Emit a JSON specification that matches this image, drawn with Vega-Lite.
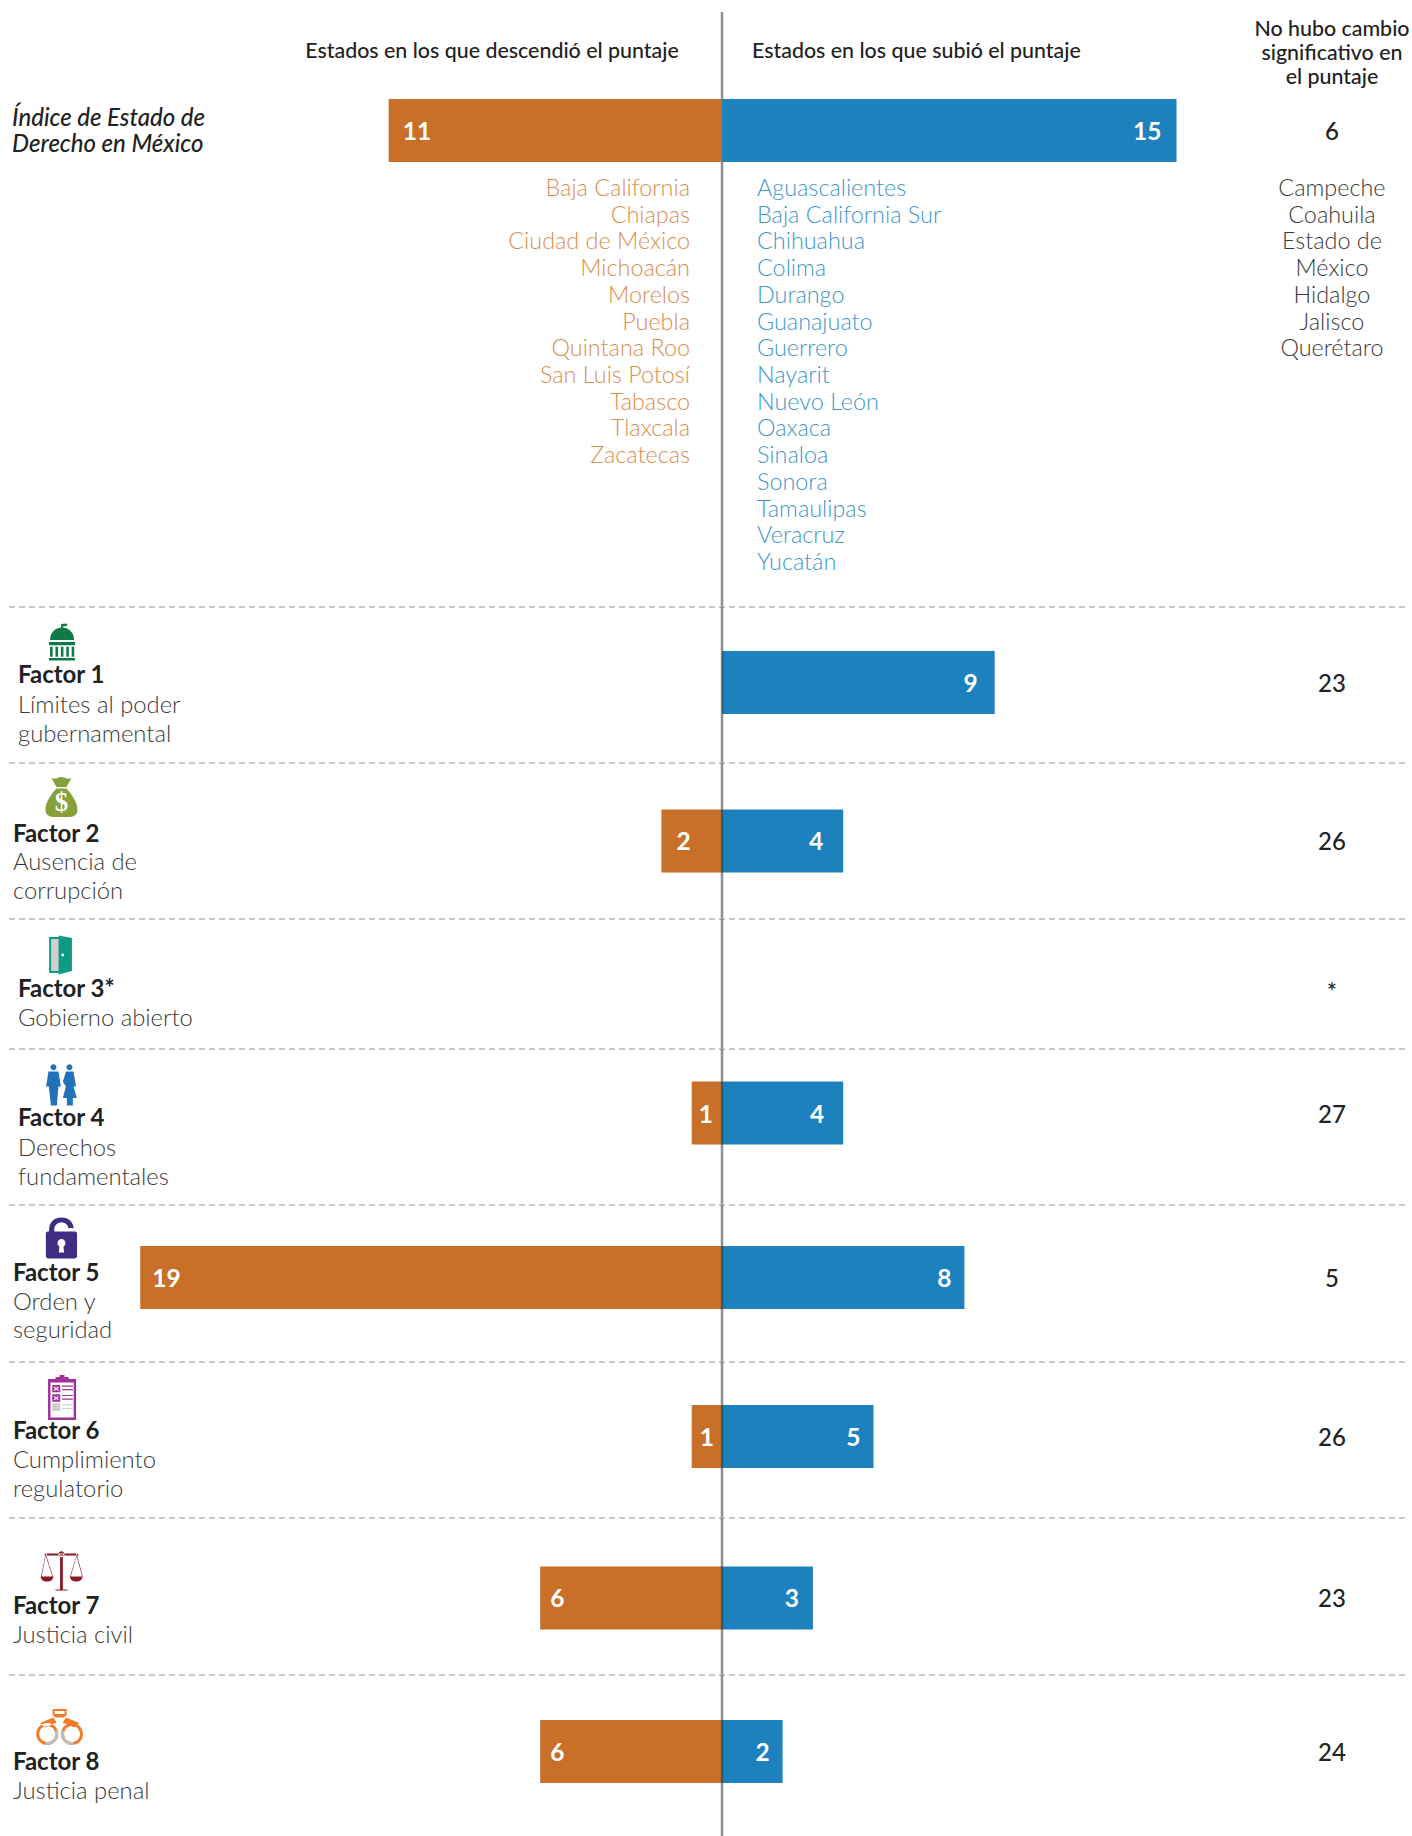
{
"$schema":"https://vega.github.io/schema/vega-lite/v6.json",
"padding":{"left":0,"right":0,"top":10,"bottom":0},
"background":"white",
"spacing":0,
"bounds":"flush",
"config":{"view":{"stroke":null},"axis":{"disable":true},"legend":{"disable":true},"font":"Lato","concat":{"spacing":0}},
"datasets":{
"encabezados":[{"grupo":"descendió","texto":"Estados en los que descendió el puntaje"},{"grupo":"subió","texto":"Estados en los que subió el puntaje"},{"grupo":"sin cambio","texto":"No hubo cambio\nsignificativo en\nel puntaje"}],
"barras":[
{"fila":"Índice","cambio":"descendió","estados":-11,"rotulo":"11"},{"fila":"Índice","cambio":"subió","estados":15,"rotulo":"15"},
{"fila":"Factor 1","cambio":"subió","estados":9,"rotulo":"9"},
{"fila":"Factor 2","cambio":"descendió","estados":-2,"rotulo":"2"},{"fila":"Factor 2","cambio":"subió","estados":4,"rotulo":"4"},
{"fila":"Factor 4","cambio":"descendió","estados":-1,"rotulo":"1"},{"fila":"Factor 4","cambio":"subió","estados":4,"rotulo":"4"},
{"fila":"Factor 5","cambio":"descendió","estados":-19.2,"rotulo":"19"},{"fila":"Factor 5","cambio":"subió","estados":8,"rotulo":"8"},
{"fila":"Factor 6","cambio":"descendió","estados":-1,"rotulo":"1"},{"fila":"Factor 6","cambio":"subió","estados":5,"rotulo":"5"},
{"fila":"Factor 7","cambio":"descendió","estados":-6,"rotulo":"6"},{"fila":"Factor 7","cambio":"subió","estados":3,"rotulo":"3"},
{"fila":"Factor 8","cambio":"descendió","estados":-6,"rotulo":"6"},{"fila":"Factor 8","cambio":"subió","estados":2,"rotulo":"2"}],
"filas":[
{"fila":"Índice","nombre":"Índice de Estado de\nDerecho en México","sinCambio":"6"},
{"fila":"Factor 1","nombre":"Factor 1","descripcion":"Límites al poder\ngubernamental","sinCambio":"23"},
{"fila":"Factor 2","nombre":"Factor 2","descripcion":"Ausencia de\ncorrupción","sinCambio":"26"},
{"fila":"Factor 3","nombre":"Factor 3*","descripcion":"Gobierno abierto","sinCambio":"*"},
{"fila":"Factor 4","nombre":"Factor 4","descripcion":"Derechos\nfundamentales","sinCambio":"27"},
{"fila":"Factor 5","nombre":"Factor 5","descripcion":"Orden y\nseguridad","sinCambio":"5"},
{"fila":"Factor 6","nombre":"Factor 6","descripcion":"Cumplimiento\nregulatorio","sinCambio":"26"},
{"fila":"Factor 7","nombre":"Factor 7","descripcion":"Justicia civil","sinCambio":"23"},
{"fila":"Factor 8","nombre":"Factor 8","descripcion":"Justicia penal","sinCambio":"24"}],
"estados":[
{"grupo":"descendió","orden":1,"estado":"Baja California"},{"grupo":"descendió","orden":2,"estado":"Chiapas"},{"grupo":"descendió","orden":3,"estado":"Ciudad de México"},{"grupo":"descendió","orden":4,"estado":"Michoacán"},{"grupo":"descendió","orden":5,"estado":"Morelos"},{"grupo":"descendió","orden":6,"estado":"Puebla"},{"grupo":"descendió","orden":7,"estado":"Quintana Roo"},{"grupo":"descendió","orden":8,"estado":"San Luis Potosí"},{"grupo":"descendió","orden":9,"estado":"Tabasco"},{"grupo":"descendió","orden":10,"estado":"Tlaxcala"},{"grupo":"descendió","orden":11,"estado":"Zacatecas"},
{"grupo":"subió","orden":1,"estado":"Aguascalientes"},{"grupo":"subió","orden":2,"estado":"Baja California Sur"},{"grupo":"subió","orden":3,"estado":"Chihuahua"},{"grupo":"subió","orden":4,"estado":"Colima"},{"grupo":"subió","orden":5,"estado":"Durango"},{"grupo":"subió","orden":6,"estado":"Guanajuato"},{"grupo":"subió","orden":7,"estado":"Guerrero"},{"grupo":"subió","orden":8,"estado":"Nayarit"},{"grupo":"subió","orden":9,"estado":"Nuevo León"},{"grupo":"subió","orden":10,"estado":"Oaxaca"},{"grupo":"subió","orden":11,"estado":"Sinaloa"},{"grupo":"subió","orden":12,"estado":"Sonora"},{"grupo":"subió","orden":13,"estado":"Tamaulipas"},{"grupo":"subió","orden":14,"estado":"Veracruz"},{"grupo":"subió","orden":15,"estado":"Yucatán"},
{"grupo":"sin cambio","orden":1,"estado":"Campeche"},{"grupo":"sin cambio","orden":2,"estado":"Coahuila"},{"grupo":"sin cambio","orden":3,"estado":"Estado de\nMéxico"},{"grupo":"sin cambio","orden":5,"estado":"Hidalgo"},{"grupo":"sin cambio","orden":6,"estado":"Jalisco"},{"grupo":"sin cambio","orden":7,"estado":"Querétaro"}]
},
"vconcat":[
{"width":1412,"height":87,"data":{"name":"encabezados"},"layer":[
 {"data":{"values":[{}]},"mark":{"type":"rule","color":"#333333","opacity":0.55,"strokeWidth":2.5},"encoding":{"x":{"datum":0,"type":"quantitative","scale":{"domain":[-23.828,22.772],"nice":false}}}},
 {"transform":[{"filter":"datum.grupo==='descendió'"}],"mark":{"type":"text","fontSize":21.4,"fontWeight":500,"color":"#222222","align":"center","dy":-3.2},"encoding":{"x":{"datum":-7.59},"text":{"field":"texto"}}},
 {"transform":[{"filter":"datum.grupo==='subió'"}],"mark":{"type":"text","fontSize":21.4,"fontWeight":500,"color":"#222222","align":"left","dy":-3.2},"encoding":{"x":{"datum":0.99},"text":{"field":"texto"}}},
 {"transform":[{"filter":"datum.grupo==='sin cambio'"}],"mark":{"type":"text","fontSize":21.4,"fontWeight":500,"color":"#222222","align":"center","lineBreak":"\n","lineHeight":24,"dy":-25.6},"encoding":{"x":{"datum":20.13},"text":{"field":"texto"}}}
]},
{"width":1412,"height":63,"data":{"name":"filas"},"transform":[{"filter":"datum.fila==='Índice'"}],"layer":[
 {"data":{"name":"barras"},"transform":[{"filter":"datum.fila==='Índice'"}],"mark":{"type":"bar","size":63},"encoding":{"x":{"field":"estados","type":"quantitative","stack":null,"scale":{"domain":[-23.828,22.772],"nice":false}},"color":{"field":"cambio","type":"nominal","scale":{"domain":["descendió","subió"],"range":["#C8702A","#1C81BD"]}}}},
 {"data":{"name":"barras"},"transform":[{"filter":"datum.fila==='Índice' && datum.cambio==='descendió'"}],"mark":{"type":"text","fontSize":24.5,"fontWeight":700,"color":"white","align":"left","dx":14,"dy":2},"encoding":{"x":{"field":"estados","type":"quantitative"},"text":{"field":"rotulo"}}},
 {"data":{"name":"barras"},"transform":[{"filter":"datum.fila==='Índice' && datum.cambio==='subió'"}],"mark":{"type":"text","fontSize":24.5,"fontWeight":700,"color":"white","align":"right","dx":-15,"dy":2},"encoding":{"x":{"field":"estados","type":"quantitative"},"text":{"field":"rotulo"}}},
 {"mark":{"type":"text","fontSize":24,"fontWeight":500,"color":"#222222","align":"center","dy":2},"encoding":{"x":{"datum":20.13},"text":{"field":"sinCambio"}}},
 {"mark":{"type":"text","fontSize":24,"fontWeight":500,"fontStyle":"italic","color":"#222222","align":"left","lineBreak":"\n","lineHeight":26,"dy":-12},"encoding":{"x":{"datum":-23.43},"text":{"field":"nombre"}}}
]},
{"width":1412,"height":445,"data":{"name":"estados"},"layer":[
 {"data":{"values":[{}]},"mark":{"type":"rule","color":"#333333","opacity":0.55,"strokeWidth":2.5},"encoding":{"x":{"datum":0,"type":"quantitative","scale":{"domain":[-23.828,22.772],"nice":false}}}},
 {"transform":[{"filter":"datum.grupo==='descendió'"}],"mark":{"type":"text","font":"'Lato Light', Lato","fontSize":23.4,"fontWeight":300,"color":"#DA8E4E","align":"right"},"encoding":{"x":{"datum":-1.056},"y":{"field":"orden","type":"ordinal","scale":{"type":"point","domain":[1,2,3,4,5,6,7,8,9,10,11,12,13,14,15],"range":[27,401],"padding":0}},"text":{"field":"estado"}}},
 {"transform":[{"filter":"datum.grupo==='subió'"}],"mark":{"type":"text","font":"'Lato Light', Lato","fontSize":23.4,"fontWeight":300,"color":"#3F97CC","align":"left"},"encoding":{"x":{"datum":1.155},"y":{"field":"orden","type":"ordinal"},"text":{"field":"estado"}}},
 {"transform":[{"filter":"datum.grupo==='sin cambio'"}],"mark":{"type":"text","font":"'Lato Light', Lato","fontSize":23.4,"fontWeight":300,"color":"#3A3A3A","align":"center","baseline":"alphabetic","dy":7,"lineBreak":"\n","lineHeight":26.7},"encoding":{"x":{"datum":20.13},"y":{"field":"orden","type":"ordinal"},"text":{"field":"estado"}}}
]},
{"width":1412,"height":156,"data":{"name":"filas"},"transform":[{"filter":"datum.fila==='Factor 1'"}],"layer":[
 {"mark":{"type":"rule","color":"#B8B8B8","strokeWidth":1.5,"strokeDash":[6,4],"yOffset":-78},"encoding":{"x":{"datum":-23.53,"type":"quantitative","scale":{"domain":[-23.828,22.772],"nice":false}},"x2":{"datum":22.57}}},
 {"data":{"name":"barras"},"transform":[{"filter":"datum.fila==='Factor 1'"}],"mark":{"type":"bar","size":63,"yOffset":-2.4},"encoding":{"x":{"field":"estados","type":"quantitative","stack":null},"color":{"field":"cambio","type":"nominal","scale":{"domain":["descendió","subió"],"range":["#C8702A","#1C81BD"]}}}},
 {"mark":{"type":"rule","color":"#333333","opacity":0.55,"strokeWidth":2.5},"encoding":{"x":{"datum":0}}},
 {"data":{"name":"barras"},"transform":[{"filter":"datum.fila==='Factor 1' && datum.cambio==='subió'"}],"mark":{"type":"text","fontSize":24.5,"fontWeight":700,"color":"white","align":"right","dx":-17,"dy":0},"encoding":{"x":{"field":"estados","type":"quantitative"},"text":{"field":"rotulo"}}},
 {"mark":{"type":"text","fontSize":24,"fontWeight":500,"color":"#222222","align":"center","dy":0},"encoding":{"x":{"datum":20.13},"text":{"field":"sinCambio"}}},
 {"mark":{"type":"text","fontSize":24,"fontWeight":700,"color":"#222222","align":"left","baseline":"alphabetic"},"encoding":{"x":{"datum":-23.234},"y":{"datum":"nombre","type":"nominal","scale":{"type":"point","domain":["icono","nombre","descripcion"],"range":[46,106],"padding":0}},"text":{"field":"nombre"}}},
 {"mark":{"type":"text","font":"'Lato Light', Lato","fontSize":23.8,"fontWeight":300,"color":"#3A3A3A","align":"left","baseline":"alphabetic","lineBreak":"\n","lineHeight":29},"encoding":{"x":{"datum":-23.234},"y":{"datum":"descripcion","type":"nominal"},"text":{"field":"descripcion"}}},
 {"mark":{"type":"point","filled":true,"opacity":1,"color":"#0F7A45","size":1600,"yOffset":-11,"shape":"M -0.6 -0.1 C -0.6 -0.5 -0.3 -0.72 0 -0.72 C 0.3 -0.72 0.6 -0.5 0.6 -0.1 Z M -0.05 -0.72 L -0.05 -0.9 L 0.25 -0.92 L 0.25 -0.8 L 0.05 -0.78 L 0.05 -0.72 Z M -0.65 0 L 0.65 0 L 0.65 0.16 L -0.65 0.16 Z M -0.6 0.24 L -0.47 0.24 L -0.47 0.74 L -0.6 0.74 Z M -0.33 0.24 L -0.2 0.24 L -0.2 0.74 L -0.33 0.74 Z M -0.06 0.24 L 0.07 0.24 L 0.07 0.74 L -0.06 0.74 Z M 0.21 0.24 L 0.34 0.24 L 0.34 0.74 L 0.21 0.74 Z M 0.48 0.24 L 0.61 0.24 L 0.61 0.74 L 0.48 0.74 Z M -0.65 0.8 L 0.65 0.8 L 0.65 0.92 L -0.65 0.92 Z"},"encoding":{"x":{"datum":-21.78},"y":{"datum":"icono","type":"nominal"}}}
]},
{"width":1412,"height":156,"data":{"name":"filas"},"transform":[{"filter":"datum.fila==='Factor 2'"}],"layer":[
 {"mark":{"type":"rule","color":"#B8B8B8","strokeWidth":1.5,"strokeDash":[6,4],"yOffset":-78},"encoding":{"x":{"datum":-23.53,"type":"quantitative","scale":{"domain":[-23.828,22.772],"nice":false}},"x2":{"datum":22.57}}},
 {"data":{"name":"barras"},"transform":[{"filter":"datum.fila==='Factor 2'"}],"mark":{"type":"bar","size":63},"encoding":{"x":{"field":"estados","type":"quantitative","stack":null},"color":{"field":"cambio","type":"nominal","scale":{"domain":["descendió","subió"],"range":["#C8702A","#1C81BD"]}}}},
 {"mark":{"type":"rule","color":"#333333","opacity":0.55,"strokeWidth":2.5},"encoding":{"x":{"datum":0}}},
 {"data":{"name":"barras"},"transform":[{"filter":"datum.fila==='Factor 2' && datum.cambio==='descendió'"}],"mark":{"type":"text","fontSize":24.5,"fontWeight":700,"color":"white","align":"left","dx":15,"dy":2},"encoding":{"x":{"field":"estados","type":"quantitative"},"text":{"field":"rotulo"}}},
 {"data":{"name":"barras"},"transform":[{"filter":"datum.fila==='Factor 2' && datum.cambio==='subió'"}],"mark":{"type":"text","fontSize":24.5,"fontWeight":700,"color":"white","align":"right","dx":-20,"dy":2},"encoding":{"x":{"field":"estados","type":"quantitative"},"text":{"field":"rotulo"}}},
 {"mark":{"type":"text","fontSize":24,"fontWeight":500,"color":"#222222","align":"center","dy":2},"encoding":{"x":{"datum":20.13},"text":{"field":"sinCambio"}}},
 {"mark":{"type":"text","fontSize":24,"fontWeight":700,"color":"#222222","align":"left","baseline":"alphabetic"},"encoding":{"x":{"datum":-23.4},"y":{"datum":"nombre","type":"nominal","scale":{"type":"point","domain":["icono","nombre","descripcion"],"range":[51,107],"padding":0}},"text":{"field":"nombre"}}},
 {"mark":{"type":"text","font":"'Lato Light', Lato","fontSize":23.8,"fontWeight":300,"color":"#3A3A3A","align":"left","baseline":"alphabetic","lineBreak":"\n","lineHeight":29},"encoding":{"x":{"datum":-23.4},"y":{"datum":"descripcion","type":"nominal"},"text":{"field":"descripcion"}}},
 {"mark":{"type":"point","filled":true,"opacity":1,"color":"#85A03C","size":1600,"yOffset":-17,"shape":"M -0.25 -0.42 C -0.55 -0.1 -0.8 0.3 -0.8 0.62 C -0.8 0.92 -0.6 1 -0.3 1 L 0.3 1 C 0.6 1 0.8 0.92 0.8 0.62 C 0.8 0.3 0.55 -0.1 0.25 -0.42 Z M -0.5 -0.95 C -0.3 -0.85 -0.15 -1 0 -1 C 0.15 -1 0.3 -0.85 0.5 -0.95 L 0.25 -0.5 L -0.25 -0.5 Z"},"encoding":{"x":{"datum":-21.8},"y":{"datum":"icono","type":"nominal"}}},
 {"mark":{"type":"text","font":"Liberation Serif","fontSize":27,"fontWeight":700,"color":"white","align":"center","dy":-11},"encoding":{"x":{"datum":-21.8},"y":{"datum":"icono","type":"nominal"},"text":{"value":"$"}}}
]},
{"width":1412,"height":130,"data":{"name":"filas"},"transform":[{"filter":"datum.fila==='Factor 3'"}],"layer":[
 {"mark":{"type":"rule","color":"#B8B8B8","strokeWidth":1.5,"strokeDash":[6,4],"yOffset":-65},"encoding":{"x":{"datum":-23.53,"type":"quantitative","scale":{"domain":[-23.828,22.772],"nice":false}},"x2":{"datum":22.57}}},
 {"mark":{"type":"rule","color":"#333333","opacity":0.55,"strokeWidth":2.5},"encoding":{"x":{"datum":0}}},
 {"mark":{"type":"text","fontSize":24,"fontWeight":500,"color":"#222222","align":"center","dy":9.7},"encoding":{"x":{"datum":20.13},"text":{"field":"sinCambio"}}},
 {"mark":{"type":"text","fontSize":24,"fontWeight":700,"color":"#222222","align":"left","baseline":"alphabetic"},"encoding":{"x":{"datum":-23.234},"y":{"datum":"nombre","type":"nominal","scale":{"type":"point","domain":["icono","nombre","descripcion"],"range":[49,107],"padding":0}},"text":{"field":"nombre"}}},
 {"mark":{"type":"text","font":"'Lato Light', Lato","fontSize":23.8,"fontWeight":300,"color":"#3A3A3A","align":"left","baseline":"alphabetic"},"encoding":{"x":{"datum":-23.234},"y":{"datum":"descripcion","type":"nominal"},"text":{"field":"descripcion"}}},
 {"mark":{"type":"point","filled":true,"opacity":1,"color":"#0F9A86","size":1600,"yOffset":-13,"shape":"M -0.57 -0.9 L -0.05 -0.9 L -0.05 0.9 L -0.57 0.9 Z"},"encoding":{"x":{"datum":-21.83},"y":{"datum":"icono","type":"nominal"}}},
 {"mark":{"type":"point","filled":true,"opacity":1,"color":"#CFCFCF","size":1600,"yOffset":-13,"shape":"M -0.47 -0.8 L -0.05 -0.8 L -0.05 0.8 L -0.47 0.8 Z"},"encoding":{"x":{"datum":-21.83},"y":{"datum":"icono","type":"nominal"}}},
 {"mark":{"type":"point","filled":true,"opacity":1,"color":"#0F9A86","size":1600,"yOffset":-13,"shape":"M -0.1 -0.97 L 0.57 -0.85 L 0.57 0.8 L -0.1 0.97 Z"},"encoding":{"x":{"datum":-21.83},"y":{"datum":"icono","type":"nominal"}}},
 {"mark":{"type":"point","filled":true,"opacity":1,"color":"white","size":1600,"yOffset":-13,"shape":"M 0.04 0 A 0.07 0.07 0 1 0 0.18 0 A 0.07 0.07 0 1 0 0.04 0 Z"},"encoding":{"x":{"datum":-21.83},"y":{"datum":"icono","type":"nominal"}}}
]},
{"width":1412,"height":156,"data":{"name":"filas"},"transform":[{"filter":"datum.fila==='Factor 4'"}],"layer":[
 {"mark":{"type":"rule","color":"#B8B8B8","strokeWidth":1.5,"strokeDash":[6,4],"yOffset":-78},"encoding":{"x":{"datum":-23.53,"type":"quantitative","scale":{"domain":[-23.828,22.772],"nice":false}},"x2":{"datum":22.57}}},
 {"data":{"name":"barras"},"transform":[{"filter":"datum.fila==='Factor 4'"}],"mark":{"type":"bar","size":63,"yOffset":-14},"encoding":{"x":{"field":"estados","type":"quantitative","stack":null},"color":{"field":"cambio","type":"nominal","scale":{"domain":["descendió","subió"],"range":["#C8702A","#1C81BD"]}}}},
 {"mark":{"type":"rule","color":"#333333","opacity":0.55,"strokeWidth":2.5},"encoding":{"x":{"datum":0}}},
 {"data":{"name":"barras"},"transform":[{"filter":"datum.fila==='Factor 4' && datum.cambio==='descendió'"}],"mark":{"type":"text","fontSize":24.5,"fontWeight":700,"color":"white","align":"left","dx":7,"dy":-11},"encoding":{"x":{"field":"estados","type":"quantitative"},"text":{"field":"rotulo"}}},
 {"data":{"name":"barras"},"transform":[{"filter":"datum.fila==='Factor 4' && datum.cambio==='subió'"}],"mark":{"type":"text","fontSize":24.5,"fontWeight":700,"color":"white","align":"right","dx":-19,"dy":-11},"encoding":{"x":{"field":"estados","type":"quantitative"},"text":{"field":"rotulo"}}},
 {"mark":{"type":"text","fontSize":24,"fontWeight":500,"color":"#222222","align":"center","dy":-11},"encoding":{"x":{"datum":20.13},"text":{"field":"sinCambio"}}},
 {"mark":{"type":"text","fontSize":24,"fontWeight":700,"color":"#222222","align":"left","baseline":"alphabetic"},"encoding":{"x":{"datum":-23.234},"y":{"datum":"nombre","type":"nominal","scale":{"type":"point","domain":["icono","nombre","descripcion"],"range":[47,107],"padding":0}},"text":{"field":"nombre"}}},
 {"mark":{"type":"text","font":"'Lato Light', Lato","fontSize":23.8,"fontWeight":300,"color":"#3A3A3A","align":"left","baseline":"alphabetic","lineBreak":"\n","lineHeight":29},"encoding":{"x":{"datum":-23.234},"y":{"datum":"descripcion","type":"nominal"},"text":{"field":"descripcion"}}},
 {"mark":{"type":"point","filled":true,"opacity":1,"color":"#2272B9","size":1600,"yOffset":-11,"shape":"M -0.55 -0.883 A 0.15 0.15 0 1 0 -0.25 -0.883 A 0.15 0.15 0 1 0 -0.55 -0.883 Z M 0.25 -0.883 A 0.15 0.15 0 1 0 0.55 -0.883 A 0.15 0.15 0 1 0 0.25 -0.883 Z M -0.65 -0.68 L -0.15 -0.68 L -0.03 0.07 L -0.15 0.07 L -0.23 1.02 L -0.53 1.02 L -0.63 0.07 L -0.77 0.07 Z M 0.23 -0.68 L 0.6 -0.68 L 0.73 0.07 L 0.6 0.07 L 0.77 0.65 L 0.57 0.65 L 0.57 1.02 L 0.27 1.02 L 0.27 0.65 L 0.07 0.65 L 0.22 0.07 L 0.07 -0.18 Z"},"encoding":{"x":{"datum":-21.8},"y":{"datum":"icono","type":"nominal"}}}
]},
{"width":1412,"height":157,"data":{"name":"filas"},"transform":[{"filter":"datum.fila==='Factor 5'"}],"layer":[
 {"mark":{"type":"rule","color":"#B8B8B8","strokeWidth":1.5,"strokeDash":[6,4],"yOffset":-78.5},"encoding":{"x":{"datum":-23.53,"type":"quantitative","scale":{"domain":[-23.828,22.772],"nice":false}},"x2":{"datum":22.57}}},
 {"data":{"name":"barras"},"transform":[{"filter":"datum.fila==='Factor 5'"}],"mark":{"type":"bar","size":63,"yOffset":-6},"encoding":{"x":{"field":"estados","type":"quantitative","stack":null},"color":{"field":"cambio","type":"nominal","scale":{"domain":["descendió","subió"],"range":["#C8702A","#1C81BD"]}}}},
 {"mark":{"type":"rule","color":"#333333","opacity":0.55,"strokeWidth":2.5},"encoding":{"x":{"datum":0}}},
 {"data":{"name":"barras"},"transform":[{"filter":"datum.fila==='Factor 5' && datum.cambio==='descendió'"}],"mark":{"type":"text","fontSize":24.5,"fontWeight":700,"color":"white","align":"left","dx":12,"dy":-4},"encoding":{"x":{"field":"estados","type":"quantitative"},"text":{"field":"rotulo"}}},
 {"data":{"name":"barras"},"transform":[{"filter":"datum.fila==='Factor 5' && datum.cambio==='subió'"}],"mark":{"type":"text","fontSize":24.5,"fontWeight":700,"color":"white","align":"right","dx":-13,"dy":-4},"encoding":{"x":{"field":"estados","type":"quantitative"},"text":{"field":"rotulo"}}},
 {"mark":{"type":"text","fontSize":24,"fontWeight":500,"color":"#222222","align":"center","dy":-4},"encoding":{"x":{"datum":20.13},"text":{"field":"sinCambio"}}},
 {"mark":{"type":"text","fontSize":24,"fontWeight":700,"color":"#222222","align":"left","baseline":"alphabetic"},"encoding":{"x":{"datum":-23.4},"y":{"datum":"nombre","type":"nominal","scale":{"type":"point","domain":["icono","nombre","descripcion"],"range":[47,104.5],"padding":0}},"text":{"field":"nombre"}}},
 {"mark":{"type":"text","font":"'Lato Light', Lato","fontSize":23.8,"fontWeight":300,"color":"#3A3A3A","align":"left","baseline":"alphabetic","lineBreak":"\n","lineHeight":28.5},"encoding":{"x":{"datum":-23.4},"y":{"datum":"descripcion","type":"nominal"},"text":{"field":"descripcion"}}},
 {"mark":{"type":"point","filled":true,"opacity":1,"color":"#3F2D84","size":1600,"yOffset":-14,"shape":"M -0.78 -0.23 C -0.78 -0.3 -0.72 -0.33 -0.65 -0.33 L 0.65 -0.33 C 0.72 -0.33 0.78 -0.3 0.78 -0.23 L 0.78 0.9 C 0.78 0.98 0.72 1.02 0.65 1.02 L -0.65 1.02 C -0.72 1.02 -0.78 0.98 -0.78 0.9 Z M -0.62 -0.3 L -0.62 -0.4 C -0.62 -0.8 -0.35 -1.02 0 -1.02 C 0.35 -1.02 0.62 -0.8 0.62 -0.4 L 0.62 -0.5 L 0.36 -0.5 L 0.36 -0.4 C 0.36 -0.65 0.2 -0.78 0 -0.78 C -0.2 -0.78 -0.36 -0.65 -0.36 -0.4 L -0.36 -0.3 Z"},"encoding":{"x":{"datum":-21.8},"y":{"datum":"icono","type":"nominal"}}},
 {"mark":{"type":"point","filled":true,"opacity":1,"color":"white","size":1600,"yOffset":-14,"shape":"M -0.2 0.25 A 0.2 0.2 0 1 1 0.2 0.25 A 0.2 0.2 0 0 1 0.1 0.43 L 0.13 0.72 L -0.13 0.72 L -0.1 0.43 A 0.2 0.2 0 0 1 -0.2 0.25 Z"},"encoding":{"x":{"datum":-21.8},"y":{"datum":"icono","type":"nominal"}}}
]},
{"width":1412,"height":156,"data":{"name":"filas"},"transform":[{"filter":"datum.fila==='Factor 6'"}],"layer":[
 {"mark":{"type":"rule","color":"#B8B8B8","strokeWidth":1.5,"strokeDash":[6,4],"yOffset":-78},"encoding":{"x":{"datum":-23.53,"type":"quantitative","scale":{"domain":[-23.828,22.772],"nice":false}},"x2":{"datum":22.57}}},
 {"data":{"name":"barras"},"transform":[{"filter":"datum.fila==='Factor 6'"}],"mark":{"type":"bar","size":63,"yOffset":-3.5},"encoding":{"x":{"field":"estados","type":"quantitative","stack":null},"color":{"field":"cambio","type":"nominal","scale":{"domain":["descendió","subió"],"range":["#C8702A","#1C81BD"]}}}},
 {"mark":{"type":"rule","color":"#333333","opacity":0.55,"strokeWidth":2.5},"encoding":{"x":{"datum":0}}},
 {"data":{"name":"barras"},"transform":[{"filter":"datum.fila==='Factor 6' && datum.cambio==='descendió'"}],"mark":{"type":"text","fontSize":24.5,"fontWeight":700,"color":"white","align":"left","dx":8,"dy":-1.5},"encoding":{"x":{"field":"estados","type":"quantitative"},"text":{"field":"rotulo"}}},
 {"data":{"name":"barras"},"transform":[{"filter":"datum.fila==='Factor 6' && datum.cambio==='subió'"}],"mark":{"type":"text","fontSize":24.5,"fontWeight":700,"color":"white","align":"right","dx":-13,"dy":-1.5},"encoding":{"x":{"field":"estados","type":"quantitative"},"text":{"field":"rotulo"}}},
 {"mark":{"type":"text","fontSize":24,"fontWeight":500,"color":"#222222","align":"center","dy":-1.5},"encoding":{"x":{"datum":20.13},"text":{"field":"sinCambio"}}},
 {"mark":{"type":"text","fontSize":24,"fontWeight":700,"color":"#222222","align":"left","baseline":"alphabetic"},"encoding":{"x":{"datum":-23.4},"y":{"datum":"nombre","type":"nominal","scale":{"type":"point","domain":["icono","nombre","descripcion"],"range":[48,106],"padding":0}},"text":{"field":"nombre"}}},
 {"mark":{"type":"text","font":"'Lato Light', Lato","fontSize":23.8,"fontWeight":300,"color":"#3A3A3A","align":"left","baseline":"alphabetic","lineBreak":"\n","lineHeight":29},"encoding":{"x":{"datum":-23.4},"y":{"datum":"descripcion","type":"nominal"},"text":{"field":"descripcion"}}},
 {"mark":{"type":"point","filled":true,"opacity":1,"color":"#A0309A","size":1600,"yOffset":-12.5,"shape":"M -0.7 -0.93 L -0.33 -0.93 L -0.33 -1.03 L -0.12 -1.03 L -0.12 -1.12 L 0.12 -1.12 L 0.12 -1.03 L 0.33 -1.03 L 0.33 -0.93 L 0.7 -0.93 L 0.7 1.12 L -0.7 1.12 Z"},"encoding":{"x":{"datum":-21.78},"y":{"datum":"icono","type":"nominal"}}},
 {"mark":{"type":"point","filled":true,"opacity":1,"color":"white","size":1600,"yOffset":-12.5,"shape":"M -0.58 -0.75 L 0.58 -0.75 L 0.58 1 L -0.58 1 Z"},"encoding":{"x":{"datum":-21.78},"y":{"datum":"icono","type":"nominal"}}},
 {"mark":{"type":"point","filled":true,"opacity":1,"color":"#A0309A","size":1600,"yOffset":-12.5,"shape":"M -0.49 -0.63 L -0.09 -0.63 L -0.09 -0.26 L -0.49 -0.26 Z M -0.49 -0.16 L -0.09 -0.16 L -0.09 0.21 L -0.49 0.21 Z M 0 -0.6 L 0.54 -0.6 L 0.54 -0.54 L 0 -0.54 Z M 0 -0.42 L 0.54 -0.42 L 0.54 -0.36 L 0 -0.36 Z M 0 -0.13 L 0.54 -0.13 L 0.54 -0.07 L 0 -0.07 Z M 0 0.05 L 0.54 0.05 L 0.54 0.11 L 0 0.11 Z"},"encoding":{"x":{"datum":-21.78},"y":{"datum":"icono","type":"nominal"}}},
 {"mark":{"type":"point","filled":true,"opacity":1,"color":"#CFCFCF","size":1600,"yOffset":-12.5,"shape":"M -0.49 0.29 L -0.09 0.29 L -0.09 0.68 L -0.49 0.68 Z M 0 0.34 L 0.54 0.34 L 0.54 0.4 L 0 0.4 Z M 0 0.52 L 0.54 0.52 L 0.54 0.58 L 0 0.58 Z"},"encoding":{"x":{"datum":-21.78},"y":{"datum":"icono","type":"nominal"}}},
 {"mark":{"type":"point","filled":true,"opacity":1,"color":"white","size":1600,"yOffset":-12.5,"shape":"M -0.38 -0.55 L -0.29 -0.47 L -0.2 -0.55 L -0.16 -0.51 L -0.25 -0.44 L -0.16 -0.37 L -0.2 -0.33 L -0.29 -0.41 L -0.38 -0.33 L -0.42 -0.37 L -0.33 -0.44 L -0.42 -0.51 Z M -0.38 -0.08 L -0.29 0 L -0.2 -0.08 L -0.16 -0.04 L -0.25 0.03 L -0.16 0.1 L -0.2 0.14 L -0.29 0.06 L -0.38 0.14 L -0.42 0.1 L -0.33 0.03 L -0.42 -0.04 Z"},"encoding":{"x":{"datum":-21.78},"y":{"datum":"icono","type":"nominal"}}}
]},
{"width":1412,"height":157,"data":{"name":"filas"},"transform":[{"filter":"datum.fila==='Factor 7'"}],"layer":[
 {"mark":{"type":"rule","color":"#B8B8B8","strokeWidth":1.5,"strokeDash":[6,4],"yOffset":-78.5},"encoding":{"x":{"datum":-23.53,"type":"quantitative","scale":{"domain":[-23.828,22.772],"nice":false}},"x2":{"datum":22.57}}},
 {"data":{"name":"barras"},"transform":[{"filter":"datum.fila==='Factor 7'"}],"mark":{"type":"bar","size":63,"yOffset":1.5},"encoding":{"x":{"field":"estados","type":"quantitative","stack":null},"color":{"field":"cambio","type":"nominal","scale":{"domain":["descendió","subió"],"range":["#C8702A","#1C81BD"]}}}},
 {"mark":{"type":"rule","color":"#333333","opacity":0.55,"strokeWidth":2.5},"encoding":{"x":{"datum":0}}},
 {"data":{"name":"barras"},"transform":[{"filter":"datum.fila==='Factor 7' && datum.cambio==='descendió'"}],"mark":{"type":"text","fontSize":24.5,"fontWeight":700,"color":"white","align":"left","dx":10,"dy":3.5},"encoding":{"x":{"field":"estados","type":"quantitative"},"text":{"field":"rotulo"}}},
 {"data":{"name":"barras"},"transform":[{"filter":"datum.fila==='Factor 7' && datum.cambio==='subió'"}],"mark":{"type":"text","fontSize":24.5,"fontWeight":700,"color":"white","align":"right","dx":-14,"dy":3.5},"encoding":{"x":{"field":"estados","type":"quantitative"},"text":{"field":"rotulo"}}},
 {"mark":{"type":"text","fontSize":24,"fontWeight":500,"color":"#222222","align":"center","dy":3.5},"encoding":{"x":{"datum":20.13},"text":{"field":"sinCambio"}}},
 {"mark":{"type":"text","fontSize":24,"fontWeight":700,"color":"#222222","align":"left","baseline":"alphabetic"},"encoding":{"x":{"datum":-23.4},"y":{"datum":"nombre","type":"nominal","scale":{"type":"point","domain":["icono","nombre","descripcion"],"range":[66,125],"padding":0}},"text":{"field":"nombre"}}},
 {"mark":{"type":"text","font":"'Lato Light', Lato","fontSize":23.8,"fontWeight":300,"color":"#3A3A3A","align":"left","baseline":"alphabetic"},"encoding":{"x":{"datum":-23.4},"y":{"datum":"descripcion","type":"nominal"},"text":{"field":"descripcion"}}},
 {"mark":{"type":"point","filled":true,"opacity":1,"color":"#8B1A25","size":1600,"yOffset":-13,"shape":"M -0.79 -0.87 L 0.79 -0.87 L 0.79 -0.78 L -0.79 -0.78 Z M -0.15 -0.84 A 0.15 0.15 0 1 0 0.15 -0.84 A 0.15 0.15 0 1 0 -0.15 -0.84 Z M -0.07 -0.84 L 0.07 -0.84 L 0.07 0.94 L -0.07 0.94 Z M -0.3 0.92 L 0.3 0.92 L 0.3 0.98 L -0.3 0.98 Z M -0.85 -0.81 A 0.06 0.06 0 1 0 -0.73 -0.81 A 0.06 0.06 0 1 0 -0.85 -0.81 Z M 0.73 -0.81 A 0.06 0.06 0 1 0 0.85 -0.81 A 0.06 0.06 0 1 0 0.73 -0.81 Z M -1.04 0.275 L -0.4 0.275 C -0.42 0.45 -0.55 0.53 -0.72 0.53 C -0.89 0.53 -1.02 0.45 -1.04 0.275 Z M 0.42 0.275 L 1.06 0.275 C 1.04 0.45 0.91 0.53 0.74 0.53 C 0.57 0.53 0.44 0.45 0.42 0.275 Z M -0.8 -0.8 L -1.02 0.28 L -0.99 0.28 L -0.78 -0.8 Z M -0.8 -0.8 L -0.45 0.28 L -0.42 0.28 L -0.77 -0.8 Z M 0.78 -0.8 L 0.46 0.28 L 0.43 0.28 L 0.76 -0.8 Z M 0.78 -0.8 L 1.06 0.28 L 1.03 0.28 L 0.75 -0.8 Z"},"encoding":{"x":{"datum":-21.8},"y":{"datum":"icono","type":"nominal"}}}
]},
{"width":1412,"height":161,"data":{"name":"filas"},"transform":[{"filter":"datum.fila==='Factor 8'"}],"layer":[
 {"mark":{"type":"rule","color":"#B8B8B8","strokeWidth":1.5,"strokeDash":[6,4],"yOffset":-80.5},"encoding":{"x":{"datum":-23.53,"type":"quantitative","scale":{"domain":[-23.828,22.772],"nice":false}},"x2":{"datum":22.57}}},
 {"data":{"name":"barras"},"transform":[{"filter":"datum.fila==='Factor 8'"}],"mark":{"type":"bar","size":63,"yOffset":-4},"encoding":{"x":{"field":"estados","type":"quantitative","stack":null},"color":{"field":"cambio","type":"nominal","scale":{"domain":["descendió","subió"],"range":["#C8702A","#1C81BD"]}}}},
 {"mark":{"type":"rule","color":"#333333","opacity":0.55,"strokeWidth":2.5},"encoding":{"x":{"datum":0}}},
 {"data":{"name":"barras"},"transform":[{"filter":"datum.fila==='Factor 8' && datum.cambio==='descendió'"}],"mark":{"type":"text","fontSize":24.5,"fontWeight":700,"color":"white","align":"left","dx":10,"dy":-2},"encoding":{"x":{"field":"estados","type":"quantitative"},"text":{"field":"rotulo"}}},
 {"data":{"name":"barras"},"transform":[{"filter":"datum.fila==='Factor 8' && datum.cambio==='subió'"}],"mark":{"type":"text","fontSize":24.5,"fontWeight":700,"color":"white","align":"right","dx":-13,"dy":-2},"encoding":{"x":{"field":"estados","type":"quantitative"},"text":{"field":"rotulo"}}},
 {"mark":{"type":"text","fontSize":24,"fontWeight":500,"color":"#222222","align":"center","dy":-2},"encoding":{"x":{"datum":20.13},"text":{"field":"sinCambio"}}},
 {"mark":{"type":"text","fontSize":24,"fontWeight":700,"color":"#222222","align":"left","baseline":"alphabetic"},"encoding":{"x":{"datum":-23.4},"y":{"datum":"nombre","type":"nominal","scale":{"type":"point","domain":["icono","nombre","descripcion"],"range":[66,124],"padding":0}},"text":{"field":"nombre"}}},
 {"mark":{"type":"text","font":"'Lato Light', Lato","fontSize":23.8,"fontWeight":300,"color":"#3A3A3A","align":"left","baseline":"alphabetic"},"encoding":{"x":{"datum":-23.4},"y":{"datum":"descripcion","type":"nominal"},"text":{"field":"descripcion"}}},
 {"mark":{"type":"point","filled":true,"opacity":1,"color":"#F47A2B","size":1600,"yOffset":-14,"shape":"M -1.17 0.35 A 0.55 0.55 0 1 0 -0.07 0.35 A 0.55 0.55 0 1 0 -1.17 0.35 Z M -1.02 0.35 A 0.4 0.4 0 1 1 -0.22 0.35 A 0.4 0.4 0 1 1 -1.02 0.35 Z M 0.07 0.35 A 0.55 0.55 0 1 0 1.17 0.35 A 0.55 0.55 0 1 0 0.07 0.35 Z M 0.22 0.35 A 0.4 0.4 0 1 1 1.02 0.35 A 0.4 0.4 0 1 1 0.22 0.35 Z M -0.98 -0.2 L -0.32 -0.48 L -0.15 -0.23 L -0.73 0.02 Z M 0.98 -0.2 L 0.32 -0.48 L 0.15 -0.23 L 0.73 0.02 Z M -0.35 -0.9 L 0.35 -0.9 L 0.35 -0.6 L 0.22 -0.48 L -0.22 -0.48 L -0.35 -0.6 Z M -0.25 -0.8 L -0.25 -0.65 L 0.25 -0.65 L 0.25 -0.8 Z"},"encoding":{"x":{"datum":-21.86},"y":{"datum":"icono","type":"nominal"}}},
 {"mark":{"type":"point","filled":true,"opacity":1,"color":"#BDBDBD","size":1600,"yOffset":-14,"shape":"M -0.103 0.162 A 0.55 0.55 0 0 1 -0.716 0.892 L -0.69 0.744 A 0.4 0.4 0 0 0 -0.244 0.213 Z M 0.103 0.162 A 0.55 0.55 0 0 0 0.716 0.892 L 0.69 0.744 A 0.4 0.4 0 0 1 0.244 0.213 Z"},"encoding":{"x":{"datum":-21.86},"y":{"datum":"icono","type":"nominal"}}}
]}
]}
